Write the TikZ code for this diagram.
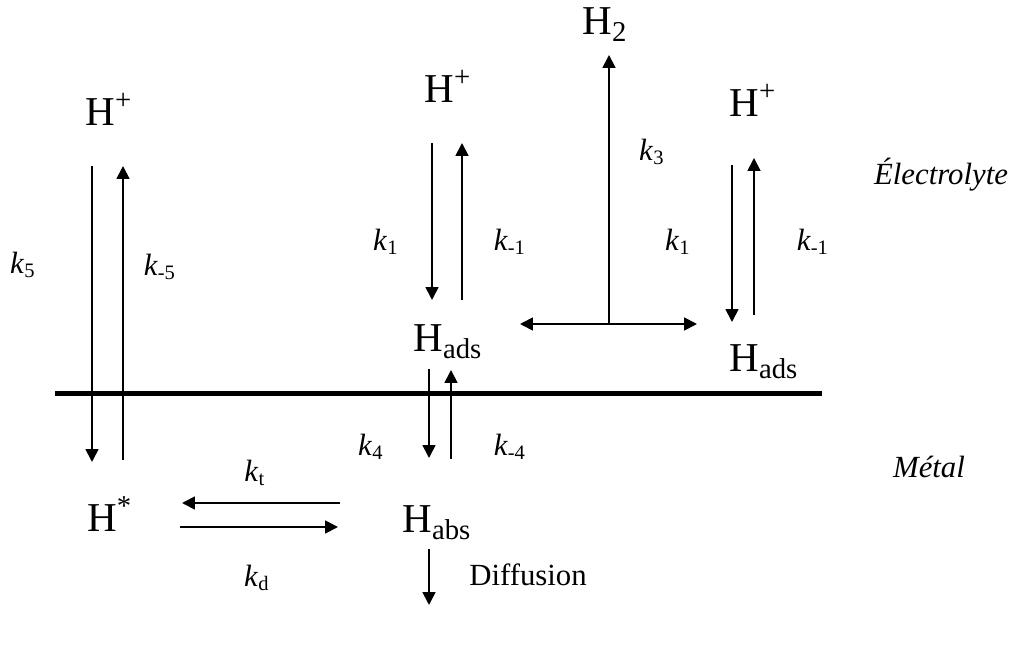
\documentclass[tikz,border=0pt]{standalone}
\usepackage{fontspec}
\setmainfont{Liberation Serif}
\usetikzlibrary{arrows.meta}
\newcommand{\rate}[1]{\textit{k}\textsubscript{#1}}

\begin{document}
\begin{tikzpicture}[x=0.39pt,y=-0.39pt,>={Triangle[length=5pt,width=5pt]},
  species/.style={anchor=base,inner sep=0pt,font=\fontsize{16}{19}\selectfont},
  klab/.style={inner sep=0pt,font=\fontsize{12}{14}\selectfont},
  region/.style={inner sep=0pt,font=\fontsize{12}{14}\selectfont\itshape},
  flux/.style={->,line width=0.7pt}]
\useasboundingbox (0,0) rectangle (1021,663);
% species
\node[species] (hpA) at (109,126) {H\textsuperscript{+}};
\node[species] (hstar) at (110,532) {H\textsuperscript{*}};
\node[species] (hpB) at (448,103) {H\textsuperscript{+}};
\node[species] (hadsB) at (448,352) {H\textsubscript{ads}};
\node[species] (habs) at (437,533) {H\textsubscript{abs}};
\node[species] (htwo) at (605,35) {H\textsubscript{2}};
\node[species] (hpC) at (753,117) {H\textsuperscript{+}};
\node[species] (hadsC) at (764,372) {H\textsubscript{ads}};
\coordinate (fork) at (609,324);
\coordinate (deep) at (429,605);
% metal surface
\draw[line width=2.3pt] (55,393.5) -- (822,393.5);
% Volmer left / right, Heyrovsky
\draw[flux] ([shift={(-17,40)}]hpA.base) -- ([shift={(-18,-70)}]hstar.base);
\draw[flux] ([shift={(13,-72)}]hstar.base) -- ([shift={(14,40)}]hpA.base);
\draw[flux] ([shift={(-16,40)}]hpB.base) -- ([shift={(-16,-52)}]hadsB.base);
\draw[flux] ([shift={(14,-52)}]hadsB.base) -- ([shift={(14,40)}]hpB.base);
\draw[flux] ([shift={(-21,48)}]hpC.base) -- ([shift={(-32,-50)}]hadsC.base);
\draw[flux] ([shift={(-10,-57)}]hadsC.base) -- ([shift={(1,41)}]hpC.base);
% Tafel
\draw[flux,<->] ([shift={(72,-28)}]hadsB.base) -- ([shift={(-67,-48)}]hadsC.base);
\draw[flux] (fork) -- ([shift={(4,20)}]htwo.base);
% absorption, trapping, diffusion
\draw[flux] ([shift={(-19,17)}]hadsB.base) -- ([shift={(-8,-75)}]habs.base);
\draw[flux] ([shift={(14,-74)}]habs.base) -- ([shift={(3,18)}]hadsB.base);
\draw[flux] ([shift={(-97,-30)}]habs.base) -- ([shift={(72,-29)}]hstar.base);
\draw[flux] ([shift={(70,-5)}]hstar.base) -- ([shift={(-99,-6)}]habs.base);
\draw[flux] ([shift={(-8,16)}]habs.base) -- (deep);
% rate constants
\node[klab] (k5) at (23,265) {\rate{5}};
\node[klab] (km5) at (160,267) {\rate{-5}};
\node[klab] (k1B) at (386,242) {\rate{1}};
\node[klab] (km1B) at (510,242) {\rate{-1}};
\node[klab] (k3) at (652,152) {\rate{3}};
\node[klab] (k1C) at (678,242) {\rate{1}};
\node[klab] (km1C) at (813,242) {\rate{-1}};
\node[klab] (k4) at (371,447) {\rate{4}};
\node[klab] (km4) at (510,447) {\rate{-4}};
\node[klab] (kt) at (255,473) {\rate{t}};
\node[klab] (kd) at (257,578) {\rate{d}};
\node[klab] (diff) at (528,575) {Diffusion};
% regions
\node[region] (elec) at (941,175) {Électrolyte};
\node[region] (met) at (929,467) {Métal};
\end{tikzpicture}
\end{document}
